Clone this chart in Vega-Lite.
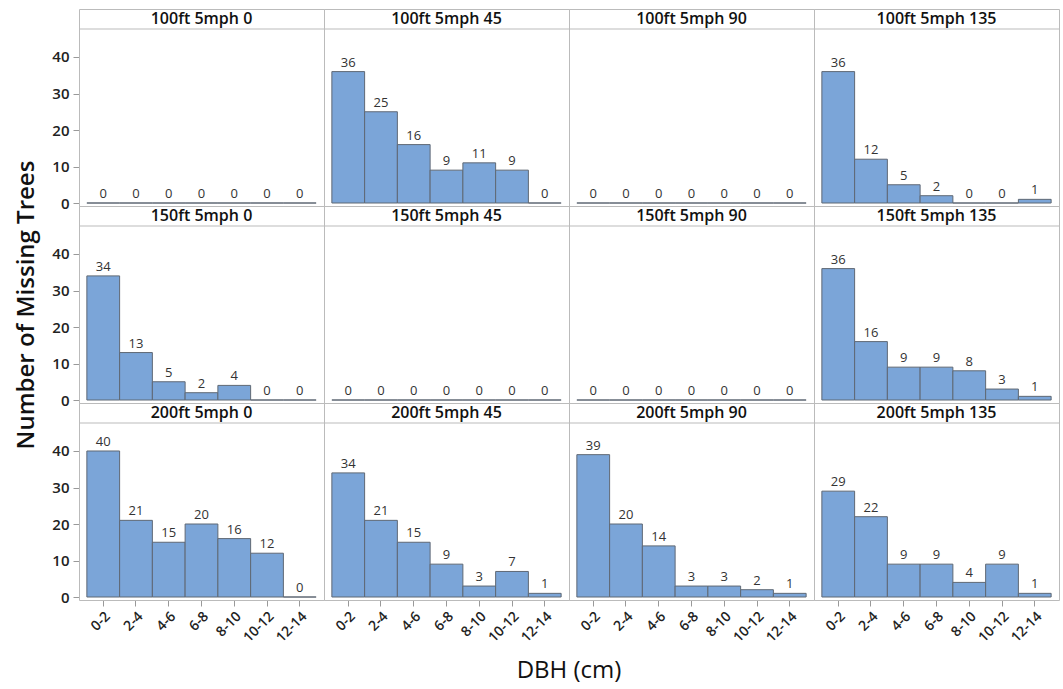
{
  "$schema": "https://vega.github.io/schema/vega-lite/v6.json",
  "padding": {"top": 8, "left": 14, "right": 0, "bottom": 26},
  "bounds": "flush",
  "data": {"values": [
    {"d":"100ft","a":"0","panel":"100ft 5mph 0","bin":"0-2","n":0},{"d":"100ft","a":"0","panel":"100ft 5mph 0","bin":"2-4","n":0},{"d":"100ft","a":"0","panel":"100ft 5mph 0","bin":"4-6","n":0},{"d":"100ft","a":"0","panel":"100ft 5mph 0","bin":"6-8","n":0},{"d":"100ft","a":"0","panel":"100ft 5mph 0","bin":"8-10","n":0},{"d":"100ft","a":"0","panel":"100ft 5mph 0","bin":"10-12","n":0},{"d":"100ft","a":"0","panel":"100ft 5mph 0","bin":"12-14","n":0},
    {"d":"100ft","a":"45","panel":"100ft 5mph 45","bin":"0-2","n":36},{"d":"100ft","a":"45","panel":"100ft 5mph 45","bin":"2-4","n":25},{"d":"100ft","a":"45","panel":"100ft 5mph 45","bin":"4-6","n":16},{"d":"100ft","a":"45","panel":"100ft 5mph 45","bin":"6-8","n":9},{"d":"100ft","a":"45","panel":"100ft 5mph 45","bin":"8-10","n":11},{"d":"100ft","a":"45","panel":"100ft 5mph 45","bin":"10-12","n":9},{"d":"100ft","a":"45","panel":"100ft 5mph 45","bin":"12-14","n":0},
    {"d":"100ft","a":"90","panel":"100ft 5mph 90","bin":"0-2","n":0},{"d":"100ft","a":"90","panel":"100ft 5mph 90","bin":"2-4","n":0},{"d":"100ft","a":"90","panel":"100ft 5mph 90","bin":"4-6","n":0},{"d":"100ft","a":"90","panel":"100ft 5mph 90","bin":"6-8","n":0},{"d":"100ft","a":"90","panel":"100ft 5mph 90","bin":"8-10","n":0},{"d":"100ft","a":"90","panel":"100ft 5mph 90","bin":"10-12","n":0},{"d":"100ft","a":"90","panel":"100ft 5mph 90","bin":"12-14","n":0},
    {"d":"100ft","a":"135","panel":"100ft 5mph 135","bin":"0-2","n":36},{"d":"100ft","a":"135","panel":"100ft 5mph 135","bin":"2-4","n":12},{"d":"100ft","a":"135","panel":"100ft 5mph 135","bin":"4-6","n":5},{"d":"100ft","a":"135","panel":"100ft 5mph 135","bin":"6-8","n":2},{"d":"100ft","a":"135","panel":"100ft 5mph 135","bin":"8-10","n":0},{"d":"100ft","a":"135","panel":"100ft 5mph 135","bin":"10-12","n":0},{"d":"100ft","a":"135","panel":"100ft 5mph 135","bin":"12-14","n":1},
    {"d":"150ft","a":"0","panel":"150ft 5mph 0","bin":"0-2","n":34},{"d":"150ft","a":"0","panel":"150ft 5mph 0","bin":"2-4","n":13},{"d":"150ft","a":"0","panel":"150ft 5mph 0","bin":"4-6","n":5},{"d":"150ft","a":"0","panel":"150ft 5mph 0","bin":"6-8","n":2},{"d":"150ft","a":"0","panel":"150ft 5mph 0","bin":"8-10","n":4},{"d":"150ft","a":"0","panel":"150ft 5mph 0","bin":"10-12","n":0},{"d":"150ft","a":"0","panel":"150ft 5mph 0","bin":"12-14","n":0},
    {"d":"150ft","a":"45","panel":"150ft 5mph 45","bin":"0-2","n":0},{"d":"150ft","a":"45","panel":"150ft 5mph 45","bin":"2-4","n":0},{"d":"150ft","a":"45","panel":"150ft 5mph 45","bin":"4-6","n":0},{"d":"150ft","a":"45","panel":"150ft 5mph 45","bin":"6-8","n":0},{"d":"150ft","a":"45","panel":"150ft 5mph 45","bin":"8-10","n":0},{"d":"150ft","a":"45","panel":"150ft 5mph 45","bin":"10-12","n":0},{"d":"150ft","a":"45","panel":"150ft 5mph 45","bin":"12-14","n":0},
    {"d":"150ft","a":"90","panel":"150ft 5mph 90","bin":"0-2","n":0},{"d":"150ft","a":"90","panel":"150ft 5mph 90","bin":"2-4","n":0},{"d":"150ft","a":"90","panel":"150ft 5mph 90","bin":"4-6","n":0},{"d":"150ft","a":"90","panel":"150ft 5mph 90","bin":"6-8","n":0},{"d":"150ft","a":"90","panel":"150ft 5mph 90","bin":"8-10","n":0},{"d":"150ft","a":"90","panel":"150ft 5mph 90","bin":"10-12","n":0},{"d":"150ft","a":"90","panel":"150ft 5mph 90","bin":"12-14","n":0},
    {"d":"150ft","a":"135","panel":"150ft 5mph 135","bin":"0-2","n":36},{"d":"150ft","a":"135","panel":"150ft 5mph 135","bin":"2-4","n":16},{"d":"150ft","a":"135","panel":"150ft 5mph 135","bin":"4-6","n":9},{"d":"150ft","a":"135","panel":"150ft 5mph 135","bin":"6-8","n":9},{"d":"150ft","a":"135","panel":"150ft 5mph 135","bin":"8-10","n":8},{"d":"150ft","a":"135","panel":"150ft 5mph 135","bin":"10-12","n":3},{"d":"150ft","a":"135","panel":"150ft 5mph 135","bin":"12-14","n":1},
    {"d":"200ft","a":"0","panel":"200ft 5mph 0","bin":"0-2","n":40},{"d":"200ft","a":"0","panel":"200ft 5mph 0","bin":"2-4","n":21},{"d":"200ft","a":"0","panel":"200ft 5mph 0","bin":"4-6","n":15},{"d":"200ft","a":"0","panel":"200ft 5mph 0","bin":"6-8","n":20},{"d":"200ft","a":"0","panel":"200ft 5mph 0","bin":"8-10","n":16},{"d":"200ft","a":"0","panel":"200ft 5mph 0","bin":"10-12","n":12},{"d":"200ft","a":"0","panel":"200ft 5mph 0","bin":"12-14","n":0},
    {"d":"200ft","a":"45","panel":"200ft 5mph 45","bin":"0-2","n":34},{"d":"200ft","a":"45","panel":"200ft 5mph 45","bin":"2-4","n":21},{"d":"200ft","a":"45","panel":"200ft 5mph 45","bin":"4-6","n":15},{"d":"200ft","a":"45","panel":"200ft 5mph 45","bin":"6-8","n":9},{"d":"200ft","a":"45","panel":"200ft 5mph 45","bin":"8-10","n":3},{"d":"200ft","a":"45","panel":"200ft 5mph 45","bin":"10-12","n":7},{"d":"200ft","a":"45","panel":"200ft 5mph 45","bin":"12-14","n":1},
    {"d":"200ft","a":"90","panel":"200ft 5mph 90","bin":"0-2","n":39},{"d":"200ft","a":"90","panel":"200ft 5mph 90","bin":"2-4","n":20},{"d":"200ft","a":"90","panel":"200ft 5mph 90","bin":"4-6","n":14},{"d":"200ft","a":"90","panel":"200ft 5mph 90","bin":"6-8","n":3},{"d":"200ft","a":"90","panel":"200ft 5mph 90","bin":"8-10","n":3},{"d":"200ft","a":"90","panel":"200ft 5mph 90","bin":"10-12","n":2},{"d":"200ft","a":"90","panel":"200ft 5mph 90","bin":"12-14","n":1},
    {"d":"200ft","a":"135","panel":"200ft 5mph 135","bin":"0-2","n":29},{"d":"200ft","a":"135","panel":"200ft 5mph 135","bin":"2-4","n":22},{"d":"200ft","a":"135","panel":"200ft 5mph 135","bin":"4-6","n":9},{"d":"200ft","a":"135","panel":"200ft 5mph 135","bin":"6-8","n":9},{"d":"200ft","a":"135","panel":"200ft 5mph 135","bin":"8-10","n":4},{"d":"200ft","a":"135","panel":"200ft 5mph 135","bin":"10-12","n":9},{"d":"200ft","a":"135","panel":"200ft 5mph 135","bin":"12-14","n":1}
  ]},
  "facet": {
    "row": {"field": "d", "type": "nominal", "sort": ["100ft","150ft","200ft"],
      "header": {"labels": false, "title": "Number of Missing Trees", "titleFontSize": 24, "titleFont": "Open Sans", "titleFontWeight": 600, "titleColor": "#111", "titlePadding": 2}},
    "column": {"field": "a", "type": "nominal", "sort": ["0","45","90","135"],
      "header": {"labels": false, "title": "DBH (cm)", "titleOrient": "bottom", "titleFontSize": 24, "titleFont": "Open Sans", "titleFontWeight": 500, "titleColor": "#111", "titlePadding": 4, "titleBaseline": "top"}}
  },
  "spacing": {"row": 0, "column": 0},
  "spec": {
    "width": 245,
    "height": 197,
    "layer": [
      {
        "mark": {"type": "bar", "fill": "#7ba5d8", "stroke": "#5f6874", "strokeWidth": 1},
        "encoding": {
          "x": {"field": "bin", "type": "ordinal", "sort": ["0-2","2-4","4-6","6-8","8-10","10-12","12-14"],
            "scale": {"paddingInner": 0, "paddingOuter": 0.24},
            "axis": {"title": null, "labelAngle": -45, "labelFontSize": 14, "labelFont": "Open Sans", "labelFontWeight": 600, "labelColor": "#222", "domain": false, "tickColor": "#999", "tickSize": 6, "labelPadding": 3}},
          "y": {"field": "n", "type": "quantitative",
            "scale": {"domain": [-0.82, 53.15], "nice": false, "zero": false},
            "axis": {"title": null, "values": [0,10,20,30,40], "grid": false, "domain": false, "labelFontSize": 15, "labelFont": "Open Sans", "labelFontWeight": 600, "labelColor": "#222", "tickColor": "#999", "tickSize": 6, "labelPadding": 4}},
          "y2": {"datum": 0}
        }
      },
      {
        "mark": {"type": "text", "dy": -9, "fontSize": 13, "font": "Open Sans", "color": "#333"},
        "encoding": {
          "x": {"field": "bin", "type": "ordinal", "sort": ["0-2","2-4","4-6","6-8","8-10","10-12","12-14"]},
          "y": {"field": "n", "type": "quantitative"},
          "text": {"field": "n", "type": "quantitative"}
        }
      },
      {
        "transform": [{"filter": "datum.bin == '0-2'"}],
        "mark": {"type": "rule", "color": "#bbb", "strokeWidth": 1},
        "encoding": {"y": {"datum": 47.67}}
      },
      {
        "transform": [{"filter": "datum.bin == '0-2'"}],
        "mark": {"type": "text", "fontSize": 16, "font": "Open Sans", "fontWeight": 600, "color": "#111", "baseline": "middle"},
        "encoding": {"y": {"datum": 50.4}, "text": {"field": "panel", "type": "nominal"}}
      }
    ]
  },
  "config": {
    "view": {"stroke": "#bbb", "strokeWidth": 1},
    "background": "white"
  }
}
